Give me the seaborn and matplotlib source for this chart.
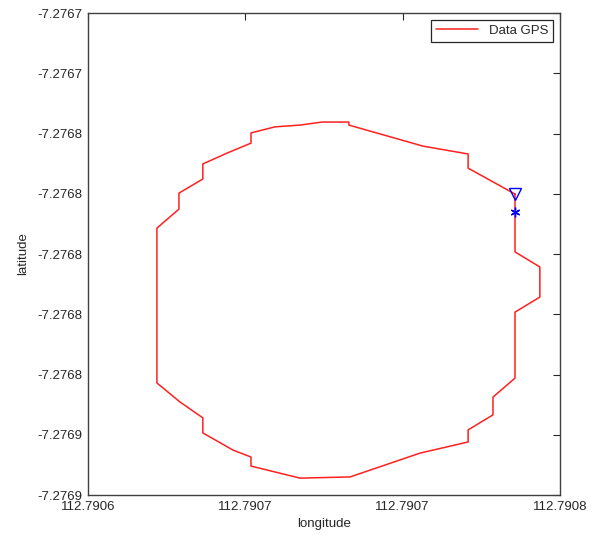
import matplotlib
matplotlib.use("Agg")
import matplotlib.pyplot as plt
import seaborn as sns
import pandas as pd

# GPS track (closed loop)
lon = [112.7907357, 112.7907357, 112.7907436, 112.7907436, 112.7907357, 112.7907357,
       112.7907287, 112.7907287, 112.7907208, 112.7907208, 112.7907055, 112.7906833,
       112.7906674, 112.7906518, 112.7906518, 112.7906461, 112.7906365, 112.7906365,
       112.7906292, 112.7906219, 112.7906219, 112.7906289, 112.7906289, 112.7906365,
       112.7906365, 112.7906442, 112.7906518, 112.7906518, 112.7906594, 112.7906674,
       112.7906744, 112.7906829, 112.7906829, 112.7907065, 112.7907208, 112.7907208,
       112.7907357]
lat = [-7.2767801, -7.2767993, -7.2768043, -7.2768143, -7.2768193, -7.2768412,
       -7.2768475, -7.2768534, -7.2768584, -7.2768624, -7.2768661, -7.2768740,
       -7.2768744, -7.2768704, -7.2768674, -7.2768651, -7.2768594, -7.2768544,
       -7.2768491, -7.2768428, -7.2767914, -7.2767851, -7.2767798, -7.2767751,
       -7.2767701, -7.2767665, -7.2767632, -7.2767598, -7.2767578, -7.2767572,
       -7.2767562, -7.2767562, -7.2767572, -7.2767642, -7.2767668, -7.2767715,
       -7.2767801]

start_lon, start_lat = 112.7907357, -7.2767801
end_lon, end_lat = 112.7907357, -7.2767861

x_ticks = [112.79060, 112.79065, 112.79070, 112.79075]
x_ticklabels = ["112.7906", "112.7907", "112.7907", "112.7908"]
y_ticks = [-7.27672, -7.27674, -7.27676, -7.27678, -7.27680,
           -7.27682, -7.27684, -7.27686, -7.27688]
y_ticklabels = ["-7.2767", "-7.2767", "-7.2768", "-7.2768", "-7.2768",
                "-7.2768", "-7.2768", "-7.2769", "-7.2769"]

sns.set_style("white")
plt.rcParams["font.family"] = ["Liberation Sans", "DejaVu Sans"]

df = pd.DataFrame({"longitude": lon, "latitude": lat})

fig = plt.figure(figsize=(5.95, 5.35), dpi=100)
ax = fig.add_axes([88 / 595, 1 - 495 / 535, 472 / 595, 482 / 535])

sns.lineplot(data=df, x="longitude", y="latitude", sort=False, estimator=None,
             color="#ff2020", linewidth=1.1, label="Data GPS", ax=ax)
ax.plot(start_lon, start_lat, marker="v", markersize=8, markerfacecolor="none",
        markeredgecolor="blue", markeredgewidth=1.0, linestyle="none")
ax.plot(end_lon, end_lat, marker=(6, 2, 0), markersize=7, color="blue",
        markeredgewidth=1.0, linestyle="none")

ax.set_xlim(x_ticks[0], x_ticks[-1])
ax.set_ylim(y_ticks[-1], y_ticks[0])
ax.set_xticks(x_ticks)
ax.set_xticklabels(x_ticklabels)
ax.set_yticks(y_ticks)
ax.set_yticklabels(y_ticklabels)

ax.tick_params(direction="in", length=5, width=0.8, top=True, right=True,
               labelsize=9.5, colors="#262626", pad=4)
for s in ax.spines.values():
    s.set_color("#404040")
    s.set_linewidth(1.0)

ax.set_xlabel("longitude", fontsize=9.5, labelpad=4)
ax.set_ylabel("latitude", fontsize=9.5, labelpad=6)

leg = ax.legend(loc="upper right", fancybox=False, edgecolor="#262626",
                fontsize=9.5, handlelength=3.2, borderaxespad=0.5,
                framealpha=1)
leg.get_frame().set_linewidth(0.9)

fig.savefig("out.png", dpi=100, facecolor="white")
